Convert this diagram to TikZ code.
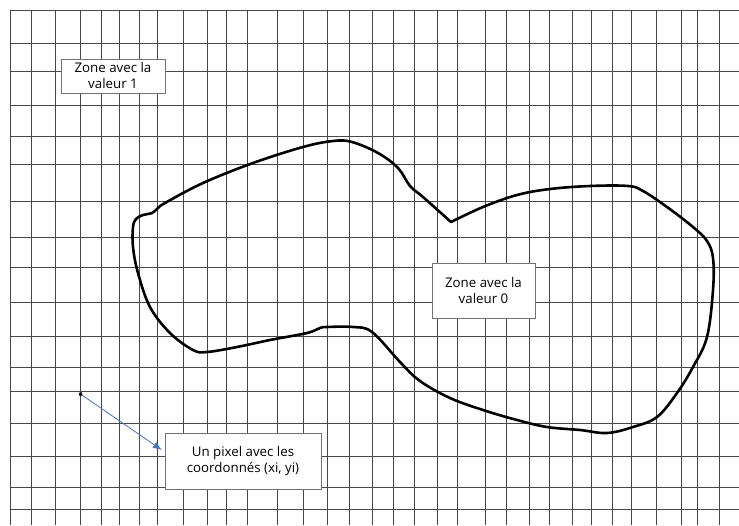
\documentclass[tikz,border=0pt]{standalone}
\usepackage{fontspec}
\setmainfont{Open Sans}
\usetikzlibrary{arrows.meta}

\begin{document}
\begin{tikzpicture}[x=1pt, y=-1pt, gridline/.style = {draw=black!72, line width=1pt}, zone/.style = {draw=black!55, fill=white, align=center, inner sep=0pt, font=\fontsize{13.3}{16}\selectfont}]
    \useasboundingbox[fill=white] (0,0) rectangle (739,525);
    % grille de pixels
    \foreach \x in {10,31,55,80,101,119,139,157,183,207,226,247,277,303,327,349,372,393,414,437,457,485,506,529,549,572,591,612,631,656,681,697,719}
        \draw[gridline] (\x,10) -- (\x,525);
    \foreach \y in {10,43,71,105,136,164,201,237,267,302,336,367,391,423,456,487,509}
        \draw[gridline] (10,\y) -- (739,\y);
    % contour de la zone
    \draw[line width=2.6pt, line join=round, line cap=round] plot[smooth, tension=0.6] coordinates {(451,222) (483,207) (517,195) (550,189) (590,186) (628,186) (643,191) (667,207) (693,227) (707,241) (713,258) (713,290) (707,337) (693,367) (677,393) (657,417) (633,427) (607,433) (580,430) (547,427) (517,420) (483,410) (450,398) (420,381) (400,362) (372,332) (353,327) (327,327) (320,328) (307,333) (270,340) (237,347) (207,352) (193,350) (170,333) (150,307) (138,273) (133,247) (133,227) (136,219) (143,215) (152,213) (157,209) (165,203) (203,183) (253,163) (303,147) (333,141) (352,142) (378,153) (398,168) (410,186) (423,197) (451,222)};
    \node[zone, minimum width=104pt, minimum height=34pt] (z1) at (113,76) {Zone avec la\\valeur 1};
    \node[zone, minimum width=103pt, minimum height=55pt] (z0) at (483.5,290.5) {Zone avec la\\valeur 0};
    \node[zone, minimum width=156pt, minimum height=56pt] (px) at (243,461) {Un pixel avec les\\coordonnés (xi, yi)};
    \coordinate (p) at (79,393);
    \draw[{Circle[black, length=4pt]}-{Latex[length=9pt, width=7pt]}, color={rgb,255:red,68;green,114;blue,196}, line width=0.8pt] (p) -- ([xshift=-3pt]px.172);
\end{tikzpicture}
\end{document}
